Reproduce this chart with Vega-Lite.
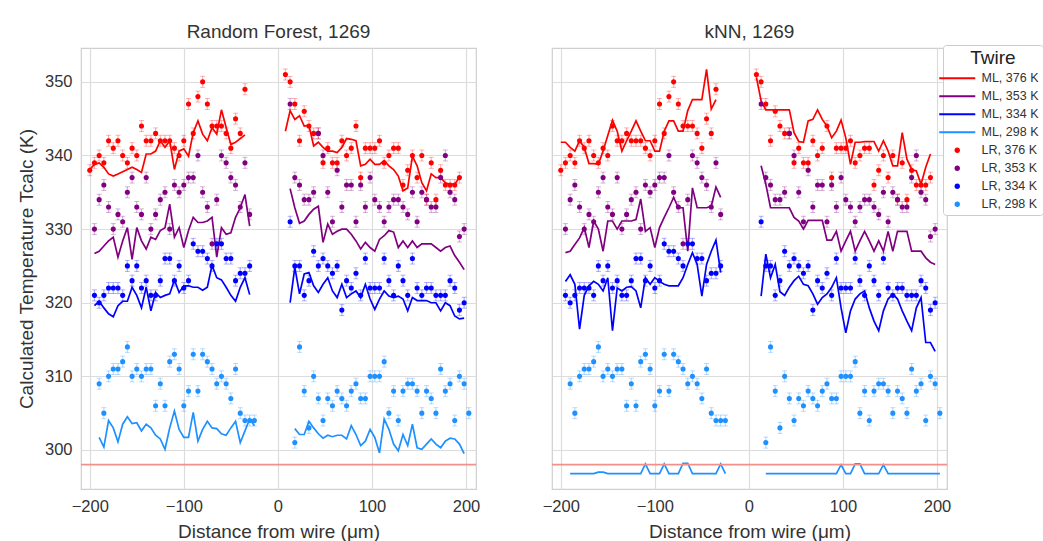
{
"$schema": "https://vega.github.io/schema/vega-lite/v6.json",
"background": "white",
"padding": {"left": 16, "top": 22, "right": 0, "bottom": 0},
"spacing": 60,
"config": {
  "font": "Liberation Sans",
  "view": {"stroke": "#cfcfcf", "strokeWidth": 1.2},
  "axis": {"grid": true, "gridColor": "#dcdcdc", "gridWidth": 1.2, "domain": false, "ticks": false, "labelFontSize": 16.5, "labelColor": "#333333", "titleFontSize": 19, "titleFontWeight": "normal", "titleColor": "#333333", "labelPadding": 9, "titlePadding": 8},
  "title": {"fontSize": 19, "fontWeight": "normal", "color": "#333333", "offset": 6}
},
"datasets": {
"lr": [
{"x":-200,"L376":338,"L353":null,"L334":null,"L298":null},
{"x":-195,"L376":339,"L353":330,"L334":321,"L298":null},
{"x":-190,"L376":340,"L353":334,"L334":320,"L298":309},
{"x":-185,"L376":339,"L353":336,"L334":321,"L298":305},
{"x":-180,"L376":342,"L353":333,"L334":322,"L298":310},
{"x":-175,"L376":341,"L353":330,"L334":322,"L298":311},
{"x":-170,"L376":342,"L353":332,"L334":322,"L298":311},
{"x":-165,"L376":340,"L353":331,"L334":321,"L298":312},
{"x":-160,"L376":339,"L353":335,"L334":325,"L298":314},
{"x":-155,"L376":341,"L353":337,"L334":323,"L298":310},
{"x":-150,"L376":340,"L353":333,"L334":325,"L298":311},
{"x":-145,"L376":344,"L353":332,"L334":322,"L298":310},
{"x":-140,"L376":342,"L353":337,"L334":323,"L298":311},
{"x":-135,"L376":342,"L353":330,"L334":321,"L298":311},
{"x":-130,"L376":343,"L353":332,"L334":321,"L298":306},
{"x":-125,"L376":342,"L353":334,"L334":323,"L298":309},
{"x":-120,"L376":342,"L353":335,"L334":326,"L298":306},
{"x":-115,"L376":342,"L353":330,"L334":326,"L298":312},
{"x":-110,"L376":341,"L353":336,"L334":323,"L298":313},
{"x":-105,"L376":340,"L353":335,"L334":325,"L298":311},
{"x":-100,"L376":342,"L353":336,"L334":322,"L298":306},
{"x":-95,"L376":347,"L353":337,"L334":323,"L298":308},
{"x":-90,"L376":343,"L353":337,"L334":328,"L298":313},
{"x":-85,"L376":348,"L353":340,"L334":327,"L298":308},
{"x":-80,"L376":350,"L353":335,"L334":327,"L298":313},
{"x":-75,"L376":347,"L353":333,"L334":326,"L298":312},
{"x":-70,"L376":344,"L353":328,"L334":325,"L298":311},
{"x":-65,"L376":344,"L353":334,"L334":328,"L298":309},
{"x":-60,"L376":344,"L353":340,"L334":328,"L298":310},
{"x":-55,"L376":343,"L353":339,"L334":326,"L298":309},
{"x":-50,"L376":341,"L353":337,"L334":326,"L298":307},
{"x":-45,"L376":345,"L353":336,"L334":323,"L298":311},
{"x":-40,"L376":343,"L353":333,"L334":324,"L298":305},
{"x":-35,"L376":349,"L353":339,"L334":324,"L298":304},
{"x":-30,"L376":null,"L353":332,"L334":325,"L298":304},
{"x":-25,"L376":null,"L353":null,"L334":null,"L298":304},
{"x":8,"L376":351,"L353":null,"L334":null,"L298":null},
{"x":13,"L376":350,"L353":347,"L334":331,"L298":null},
{"x":18,"L376":347,"L353":337,"L334":325,"L298":301},
{"x":23,"L376":342,"L353":336,"L334":325,"L298":314},
{"x":28,"L376":346,"L353":334,"L334":321,"L298":308},
{"x":33,"L376":344,"L353":334,"L334":323,"L298":303},
{"x":38,"L376":343,"L353":335,"L334":327,"L298":310},
{"x":43,"L376":343,"L353":343,"L334":325,"L298":307},
{"x":48,"L376":339,"L353":340,"L334":326,"L298":304},
{"x":53,"L376":341,"L353":335,"L334":325,"L298":307},
{"x":58,"L376":339,"L353":331,"L334":324,"L298":306},
{"x":63,"L376":339,"L353":338,"L334":325,"L298":308},
{"x":68,"L376":342,"L353":333,"L334":319,"L298":307},
{"x":73,"L376":340,"L353":336,"L334":323,"L298":306},
{"x":78,"L376":341,"L353":336,"L334":322,"L298":308},
{"x":83,"L376":344,"L353":331,"L334":324,"L298":309},
{"x":88,"L376":337,"L353":336,"L334":321,"L298":307},
{"x":93,"L376":341,"L353":333,"L334":326,"L298":307},
{"x":98,"L376":341,"L353":337,"L334":322,"L298":310},
{"x":103,"L376":341,"L353":334,"L334":322,"L298":310},
{"x":108,"L376":342,"L353":333,"L334":322,"L298":310},
{"x":113,"L376":339,"L353":331,"L334":326,"L298":312},
{"x":118,"L376":340,"L353":333,"L334":323,"L298":305},
{"x":123,"L376":341,"L353":334,"L334":321,"L298":308},
{"x":128,"L376":341,"L353":334,"L334":325,"L298":304},
{"x":133,"L376":336,"L353":333,"L334":323,"L298":308},
{"x":138,"L376":338,"L353":332,"L334":321,"L298":309},
{"x":143,"L376":340,"L353":335,"L334":326,"L298":309},
{"x":148,"L376":337,"L353":331,"L334":322,"L298":308},
{"x":153,"L376":340,"L353":335,"L334":321,"L298":305},
{"x":158,"L376":334,"L353":334,"L334":322,"L298":308},
{"x":163,"L376":339,"L353":333,"L334":322,"L298":307},
{"x":168,"L376":334,"L353":333,"L334":321,"L298":305},
{"x":173,"L376":338,"L353":337,"L334":321,"L298":311},
{"x":178,"L376":336,"L353":340,"L334":321,"L298":308},
{"x":183,"L376":336,"L353":335,"L334":323,"L298":309},
{"x":188,"L376":336,"L353":334,"L334":322,"L298":304},
{"x":193,"L376":337,"L353":329,"L334":319,"L298":310},
{"x":198,"L376":null,"L353":330,"L334":320,"L298":309},
{"x":203,"L376":null,"L353":null,"L334":null,"L298":305}
],
"rf": [
{"x":-200,"g":"L","M376":338.1,"M353":null,"M334":null,"M298":null},
{"x":-195,"g":"L","M376":338.8,"M353":326.7,"M334":319.6,"M298":null},
{"x":-190,"g":"L","M376":339.0,"M353":327.0,"M334":320.2,"M298":301.7},
{"x":-185,"g":"L","M376":338.4,"M353":327.7,"M334":319.3,"M298":300.4},
{"x":-180,"g":"L","M376":337.5,"M353":328.4,"M334":318.5,"M298":304.0},
{"x":-175,"g":"L","M376":337.2,"M353":328.9,"M334":318.1,"M298":303.0},
{"x":-170,"g":"L","M376":337.5,"M353":326.2,"M334":319.6,"M298":301.1},
{"x":-165,"g":"L","M376":337.8,"M353":328.4,"M334":320.2,"M298":303.5},
{"x":-160,"g":"L","M376":338.1,"M353":330.2,"M334":320.2,"M298":304.5},
{"x":-155,"g":"L","M376":338.4,"M353":325.9,"M334":322.1,"M298":303.6},
{"x":-150,"g":"L","M376":338.1,"M353":330.2,"M334":321.0,"M298":303.7},
{"x":-145,"g":"L","M376":337.7,"M353":328.4,"M334":319.3,"M298":302.6},
{"x":-140,"g":"L","M376":340.2,"M353":327.3,"M334":322.1,"M298":303.5},
{"x":-135,"g":"L","M376":340.2,"M353":328.9,"M334":318.9,"M298":303.0},
{"x":-130,"g":"L","M376":340.6,"M353":328.6,"M334":321.4,"M298":302.0},
{"x":-125,"g":"L","M376":342.0,"M353":329.8,"M334":320.7,"M298":301.5},
{"x":-120,"g":"L","M376":341.1,"M353":330.2,"M334":321.0,"M298":300.1},
{"x":-115,"g":"L","M376":342.0,"M353":333.4,"M334":321.2,"M298":303.0},
{"x":-110,"g":"L","M376":338.1,"M353":328.9,"M334":323.1,"M298":305.3},
{"x":-105,"g":"L","M376":340.6,"M353":330.2,"M334":321.4,"M298":302.8},
{"x":-100,"g":"L","M376":340.9,"M353":327.5,"M334":322.3,"M298":301.7},
{"x":-95,"g":"L","M376":339.9,"M353":329.8,"M334":322.3,"M298":301.7},
{"x":-90,"g":"L","M376":343.1,"M353":331.6,"M334":322.1,"M298":305.1},
{"x":-85,"g":"L","M376":344.7,"M353":330.9,"M334":322.1,"M298":301.2},
{"x":-80,"g":"L","M376":342.9,"M353":330.9,"M334":321.7,"M298":302.8},
{"x":-75,"g":"L","M376":342.0,"M353":331.1,"M334":322.1,"M298":303.9},
{"x":-70,"g":"L","M376":343.8,"M353":331.6,"M334":325.1,"M298":303.0},
{"x":-65,"g":"L","M376":342.9,"M353":326.2,"M334":323.4,"M298":302.9},
{"x":-60,"g":"L","M376":346.2,"M353":330.2,"M334":323.1,"M298":302.2},
{"x":-55,"g":"L","M376":343.8,"M353":329.3,"M334":322.1,"M298":302.0},
{"x":-50,"g":"L","M376":341.5,"M353":329.5,"M334":321.0,"M298":303.0},
{"x":-45,"g":"L","M376":341.8,"M353":331.6,"M334":320.2,"M298":303.9},
{"x":-40,"g":"L","M376":342.3,"M353":332.9,"M334":322.1,"M298":301.0},
{"x":-35,"g":"L","M376":342.8,"M353":334.7,"M334":323.4,"M298":302.6},
{"x":-30,"g":"L","M376":null,"M353":330.4,"M334":321.1,"M298":304.2},
{"x":-25,"g":"L","M376":null,"M353":null,"M334":null,"M298":303.3},
{"x":8,"g":"R","M376":343.3,"M353":null,"M334":null,"M298":null},
{"x":13,"g":"R","M376":346.1,"M353":335.5,"M334":320.0,"M298":null},
{"x":18,"g":"R","M376":344.9,"M353":332.9,"M334":324.8,"M298":302.9},
{"x":23,"g":"R","M376":345.4,"M353":330.8,"M334":321.2,"M298":302.1},
{"x":28,"g":"R","M376":344.0,"M353":331.1,"M334":323.9,"M298":302.1},
{"x":33,"g":"R","M376":344.1,"M353":332.0,"M334":324.1,"M298":303.9},
{"x":38,"g":"R","M376":341.3,"M353":332.7,"M334":322.3,"M298":303.0},
{"x":43,"g":"R","M376":341.8,"M353":333.1,"M334":321.4,"M298":302.2},
{"x":48,"g":"R","M376":341.1,"M353":328.2,"M334":322.5,"M298":301.6},
{"x":53,"g":"R","M376":340.6,"M353":330.7,"M334":323.4,"M298":302.0},
{"x":58,"g":"R","M376":340.6,"M353":329.3,"M334":321.6,"M298":301.8},
{"x":63,"g":"R","M376":340.4,"M353":329.7,"M334":320.7,"M298":302.0},
{"x":68,"g":"R","M376":341.1,"M353":330.0,"M334":322.5,"M298":302.0},
{"x":73,"g":"R","M376":342.3,"M353":330.0,"M334":320.7,"M298":301.5},
{"x":78,"g":"R","M376":342.2,"M353":329.3,"M334":321.2,"M298":303.3},
{"x":83,"g":"R","M376":342.0,"M353":328.4,"M334":321.6,"M298":302.1},
{"x":88,"g":"R","M376":338.6,"M353":327.3,"M334":320.7,"M298":300.6},
{"x":93,"g":"R","M376":338.8,"M353":328.2,"M334":322.5,"M298":301.2},
{"x":98,"g":"R","M376":339.5,"M353":327.5,"M334":320.5,"M298":302.8},
{"x":103,"g":"R","M376":338.8,"M353":327.0,"M334":319.1,"M298":301.7},
{"x":108,"g":"R","M376":338.8,"M353":328.6,"M334":320.5,"M298":299.6},
{"x":113,"g":"R","M376":339.3,"M353":329.1,"M334":321.6,"M298":304.2},
{"x":118,"g":"R","M376":338.6,"M353":329.8,"M334":320.9,"M298":302.8},
{"x":123,"g":"R","M376":338.1,"M353":329.6,"M334":320.7,"M298":300.8},
{"x":128,"g":"R","M376":337.2,"M353":327.5,"M334":320.9,"M298":299.9},
{"x":133,"g":"R","M376":335.2,"M353":328.4,"M334":320.5,"M298":302.1},
{"x":138,"g":"R","M376":335.6,"M353":327.5,"M334":318.9,"M298":300.6},
{"x":143,"g":"R","M376":339.9,"M353":328.4,"M334":320.7,"M298":303.5},
{"x":148,"g":"R","M376":338.6,"M353":327.5,"M334":320.3,"M298":300.3},
{"x":153,"g":"R","M376":336.3,"M353":328.0,"M334":320.3,"M298":300.1},
{"x":158,"g":"R","M376":335.2,"M353":328.0,"M334":320.3,"M298":300.8},
{"x":163,"g":"R","M376":337.5,"M353":328.0,"M334":320.0,"M298":301.5},
{"x":168,"g":"R","M376":337.0,"M353":327.5,"M334":320.0,"M298":300.8},
{"x":173,"g":"R","M376":337.0,"M353":327.0,"M334":318.9,"M298":300.3},
{"x":178,"g":"R","M376":336.3,"M353":327.5,"M334":320.0,"M298":301.2},
{"x":183,"g":"R","M376":336.1,"M353":327.7,"M334":319.6,"M298":301.6},
{"x":188,"g":"R","M376":336.1,"M353":326.4,"M334":318.2,"M298":301.5},
{"x":193,"g":"R","M376":337.0,"M353":325.5,"M334":317.8,"M298":300.8},
{"x":198,"g":"R","M376":null,"M353":324.5,"M334":317.9,"M298":299.5}
],
"knn": [
{"x":-200,"g":"L","M376":341.8,"M353":null,"M334":null,"M298":null},
{"x":-195,"g":"L","M376":341.8,"M353":326.8,"M334":322.9,"M298":null},
{"x":-190,"g":"L","M376":341.1,"M353":327.0,"M334":323.8,"M298":296.8},
{"x":-185,"g":"L","M376":340.6,"M353":327.9,"M334":322.5,"M298":296.8},
{"x":-180,"g":"L","M376":342.0,"M353":328.8,"M334":316.4,"M298":296.8},
{"x":-175,"g":"L","M376":341.1,"M353":330.2,"M334":321.0,"M298":296.8},
{"x":-170,"g":"L","M376":338.9,"M353":327.5,"M334":322.3,"M298":296.8},
{"x":-165,"g":"L","M376":338.9,"M353":331.1,"M334":322.9,"M298":296.8},
{"x":-160,"g":"L","M376":338.8,"M353":330.0,"M334":322.5,"M298":297.0},
{"x":-155,"g":"L","M376":340.6,"M353":327.0,"M334":321.6,"M298":297.0},
{"x":-150,"g":"L","M376":342.7,"M353":331.1,"M334":323.4,"M298":296.8},
{"x":-145,"g":"L","M376":344.8,"M353":331.1,"M334":316.2,"M298":296.8},
{"x":-140,"g":"L","M376":343.3,"M353":330.0,"M334":322.0,"M298":296.8},
{"x":-135,"g":"L","M376":340.6,"M353":331.1,"M334":321.6,"M298":296.8},
{"x":-130,"g":"L","M376":342.0,"M353":331.1,"M334":322.1,"M298":296.8},
{"x":-125,"g":"L","M376":343.3,"M353":331.1,"M334":322.2,"M298":296.8},
{"x":-120,"g":"L","M376":344.7,"M353":331.3,"M334":321.6,"M298":296.8},
{"x":-115,"g":"L","M376":343.3,"M353":334.1,"M334":319.3,"M298":296.8},
{"x":-110,"g":"L","M376":342.0,"M353":329.7,"M334":323.4,"M298":298.1},
{"x":-105,"g":"L","M376":342.0,"M353":330.2,"M334":322.5,"M298":296.8},
{"x":-100,"g":"L","M376":340.6,"M353":327.5,"M334":323.4,"M298":296.8},
{"x":-95,"g":"L","M376":340.6,"M353":330.2,"M334":322.9,"M298":296.8},
{"x":-90,"g":"L","M376":343.3,"M353":331.6,"M334":322.5,"M298":298.1},
{"x":-85,"g":"L","M376":344.7,"M353":332.9,"M334":322.3,"M298":296.8},
{"x":-80,"g":"L","M376":344.7,"M353":334.3,"M334":322.3,"M298":296.8},
{"x":-75,"g":"L","M376":343.3,"M353":332.9,"M334":322.3,"M298":296.8},
{"x":-70,"g":"L","M376":343.3,"M353":332.9,"M334":323.4,"M298":298.2},
{"x":-65,"g":"L","M376":346.1,"M353":327.0,"M334":325.2,"M298":298.2},
{"x":-60,"g":"L","M376":347.6,"M353":335.6,"M334":326.8,"M298":296.8},
{"x":-55,"g":"L","M376":347.6,"M353":332.9,"M334":325.2,"M298":296.8},
{"x":-50,"g":"L","M376":347.6,"M353":332.9,"M334":320.9,"M298":296.8},
{"x":-45,"g":"L","M376":351.7,"M353":332.9,"M334":325.2,"M298":296.8},
{"x":-40,"g":"L","M376":346.3,"M353":333.1,"M334":327.0,"M298":296.8},
{"x":-35,"g":"L","M376":347.6,"M353":335.7,"M334":328.5,"M298":296.8},
{"x":-30,"g":"L","M376":null,"M353":334.3,"M334":324.1,"M298":298.1},
{"x":-25,"g":"L","M376":null,"M353":null,"M334":null,"M298":296.8},
{"x":8,"g":"R","M376":350.6,"M353":null,"M334":null,"M298":null},
{"x":13,"g":"R","M376":347.4,"M353":338.6,"M334":320.9,"M298":null},
{"x":18,"g":"R","M376":346.2,"M353":336.1,"M334":326.6,"M298":296.8},
{"x":23,"g":"R","M376":346.2,"M353":332.9,"M334":323.4,"M298":296.8},
{"x":28,"g":"R","M376":346.2,"M353":332.9,"M334":325.2,"M298":296.8},
{"x":33,"g":"R","M376":346.2,"M353":332.9,"M334":321.5,"M298":296.8},
{"x":38,"g":"R","M376":346.2,"M353":332.9,"M334":321.0,"M298":296.8},
{"x":43,"g":"R","M376":346.2,"M353":332.9,"M334":322.1,"M298":296.8},
{"x":48,"g":"R","M376":343.1,"M353":331.6,"M334":323.0,"M298":296.8},
{"x":53,"g":"R","M376":341.9,"M353":331.1,"M334":323.6,"M298":296.8},
{"x":58,"g":"R","M376":341.8,"M353":330.0,"M334":322.5,"M298":296.8},
{"x":63,"g":"R","M376":344.7,"M353":331.2,"M334":322.3,"M298":296.8},
{"x":68,"g":"R","M376":344.9,"M353":331.2,"M334":321.2,"M298":296.8},
{"x":73,"g":"R","M376":346.2,"M353":331.2,"M334":319.8,"M298":296.8},
{"x":78,"g":"R","M376":344.9,"M353":331.2,"M334":320.7,"M298":296.8},
{"x":83,"g":"R","M376":344.0,"M353":328.5,"M334":321.2,"M298":296.8},
{"x":88,"g":"R","M376":342.4,"M353":328.5,"M334":322.1,"M298":296.8},
{"x":93,"g":"R","M376":343.3,"M353":329.7,"M334":323.4,"M298":296.8},
{"x":98,"g":"R","M376":344.8,"M353":327.0,"M334":319.3,"M298":298.0},
{"x":103,"g":"R","M376":342.4,"M353":328.4,"M334":315.9,"M298":296.8},
{"x":108,"g":"R","M376":338.8,"M353":329.7,"M334":318.9,"M298":296.8},
{"x":113,"g":"R","M376":341.8,"M353":327.0,"M334":320.5,"M298":298.1},
{"x":118,"g":"R","M376":341.8,"M353":328.4,"M334":321.2,"M298":298.1},
{"x":123,"g":"R","M376":341.9,"M353":329.7,"M334":321.6,"M298":296.8},
{"x":128,"g":"R","M376":341.9,"M353":328.4,"M334":319.3,"M298":296.8},
{"x":133,"g":"R","M376":341.9,"M353":327.0,"M334":317.5,"M298":296.8},
{"x":138,"g":"R","M376":340.6,"M353":328.4,"M334":316.2,"M298":296.8},
{"x":143,"g":"R","M376":342.0,"M353":327.0,"M334":318.9,"M298":298.0},
{"x":148,"g":"R","M376":340.6,"M353":329.7,"M334":320.5,"M298":296.8},
{"x":153,"g":"R","M376":338.6,"M353":327.0,"M334":321.2,"M298":296.8},
{"x":158,"g":"R","M376":338.6,"M353":329.7,"M334":320.5,"M298":296.8},
{"x":163,"g":"R","M376":343.1,"M353":329.7,"M334":318.9,"M298":296.8},
{"x":168,"g":"R","M376":339.5,"M353":329.7,"M334":317.5,"M298":296.8},
{"x":173,"g":"R","M376":338.1,"M353":327.0,"M334":316.2,"M298":296.8},
{"x":178,"g":"R","M376":337.9,"M353":327.0,"M334":319.3,"M298":296.8},
{"x":183,"g":"R","M376":336.1,"M353":327.0,"M334":320.7,"M298":296.8},
{"x":188,"g":"R","M376":338.4,"M353":326.1,"M334":314.6,"M298":296.8},
{"x":193,"g":"R","M376":340.2,"M353":325.5,"M334":314.6,"M298":296.8},
{"x":198,"g":"R","M376":null,"M353":325.2,"M334":313.4,"M298":296.8},
{"x":203,"g":"R","M376":null,"M353":null,"M334":null,"M298":296.8}
]
},
"hconcat": [
{
  "title": "Random Forest, 1269",
  "width": 395, "height": 441,
  "layer": [
    {"data": {"name": "rf"}, "transform": [{"fold": ["M376","M353","M334","M298"], "as": ["s","t"]}],
     "mark": {"type": "line", "strokeWidth": 1.7},
     "encoding": {
       "x": {"field":"x","type":"quantitative","scale":{"domain":[-209.3,210.6],"nice":false,"zero":false},"axis":{"values":[-200,-100,0,100,200],"title":"Distance from wire (μm)"}},
       "y": {"field":"t","type":"quantitative","scale":{"domain":[294.7,354.6],"nice":false,"zero":false},"axis":{"values":[300,310,320,330,340,350],"title":"Calculated Temperature Tcalc (K)"}},
       "color": {"field":"s","type":"nominal","scale":{"domain":["M376","M353","M334","M298","L376","L353","L334","L298"],"range":["#ff0000","#800080","#0000ff","#1e90ff","#ff0000","#800080","#0000ff","#1e90ff"]},
         "legend": {"title":"Twire","orient":"none","legendX":862,"legendY":-3,
           "labelExpr":"(substring(datum.label,0,1)==='M' ? 'ML, ' : 'LR, ') + substring(datum.label,1) + ' K'",
           "symbolSize":324,"rowPadding":5,"symbolOffset":4,"labelOffset":18,
           "padding":4,"strokeColor":"#cccccc","fillColor":"#ffffff","cornerRadius":3,
           "titleFontSize":19,"titleFontWeight":"normal","titleColor":"#222222","titlePadding":4,"titleAnchor":"middle",
           "labelFontSize":12.5,"labelColor":"#333333",
           "encoding": {"symbols": {
              "shape": {"value": {"expr": "substring(datum.value,0,1)==='M' ? 'stroke' : 'circle'"}},
              "size": {"value": {"expr": "substring(datum.value,0,1)==='M' ? 1300 : 28"}},
              "strokeWidth": {"value": {"expr": "substring(datum.value,0,1)==='M' ? 2 : 0"}},
              "stroke": {"value": {"expr": "scale('color', datum.value)"}},
              "fill": {"value": {"expr": "substring(datum.value,0,1)==='M' ? 'transparent' : scale('color', datum.value)"}},
              "opacity": {"value": 1}
           }}
         }},
       "detail": {"field":"g"}
     }},
    {"data": {"name": "lr"}, "transform": [{"fold": ["L376","L353","L334","L298"], "as": ["s","t"]}],
     "mark": {"type": "rule", "yOffset": -5.5, "y2Offset": 5.5, "opacity": 0.3, "strokeWidth": 1.2},
     "encoding": {"x": {"field":"x","type":"quantitative"}, "y": {"field":"t","type":"quantitative"}, "y2": {"field":"t"}, "color": {"field":"s","type":"nominal"}}},
    {"data": {"name": "lr"}, "transform": [{"fold": ["L376","L353","L334","L298"], "as": ["s","t"]}],
     "mark": {"type": "tick", "orient": "horizontal", "size": 5, "thickness": 1, "yOffset": -5.5, "opacity": 0.3},
     "encoding": {"x": {"field":"x","type":"quantitative"}, "y": {"field":"t","type":"quantitative"}, "color": {"field":"s","type":"nominal"}}},
    {"data": {"name": "lr"}, "transform": [{"fold": ["L376","L353","L334","L298"], "as": ["s","t"]}],
     "mark": {"type": "tick", "orient": "horizontal", "size": 5, "thickness": 1, "yOffset": 5.5, "opacity": 0.3},
     "encoding": {"x": {"field":"x","type":"quantitative"}, "y": {"field":"t","type":"quantitative"}, "color": {"field":"s","type":"nominal"}}},
    {"data": {"values": [{}]}, "mark": {"type": "rule", "color": "#f4908a", "strokeWidth": 1.8},
     "encoding": {"y": {"datum": 298, "type": "quantitative"}}},
    {"data": {"name": "lr"}, "transform": [{"fold": ["L376","L353","L334","L298"], "as": ["s","t"]}],
     "mark": {"type": "point", "filled": true, "size": 26, "opacity": 1},
     "encoding": {"x": {"field":"x","type":"quantitative"}, "y": {"field":"t","type":"quantitative"}, "color": {"field":"s","type":"nominal"}}}
  ]
},
{
  "title": "kNN, 1269",
  "width": 395, "height": 441,
  "layer": [
    {"data": {"name": "knn"}, "transform": [{"fold": ["M376","M353","M334","M298"], "as": ["s","t"]}],
     "mark": {"type": "line", "strokeWidth": 1.7},
     "encoding": {
       "x": {"field":"x","type":"quantitative","scale":{"domain":[-209.3,210.6],"nice":false,"zero":false},"axis":{"values":[-200,-100,0,100,200],"title":"Distance from wire (μm)"}},
       "y": {"field":"t","type":"quantitative","scale":{"domain":[294.7,354.6],"nice":false,"zero":false},"axis":{"values":[300,310,320,330,340,350],"labels":false,"title":null}},
       "color": {"field":"s","type":"nominal"},
       "detail": {"field":"g"}
     }},
    {"data": {"name": "lr"}, "transform": [{"fold": ["L376","L353","L334","L298"], "as": ["s","t"]}],
     "mark": {"type": "rule", "yOffset": -5.5, "y2Offset": 5.5, "opacity": 0.3, "strokeWidth": 1.2},
     "encoding": {"x": {"field":"x","type":"quantitative"}, "y": {"field":"t","type":"quantitative"}, "y2": {"field":"t"}, "color": {"field":"s","type":"nominal"}}},
    {"data": {"name": "lr"}, "transform": [{"fold": ["L376","L353","L334","L298"], "as": ["s","t"]}],
     "mark": {"type": "tick", "orient": "horizontal", "size": 5, "thickness": 1, "yOffset": -5.5, "opacity": 0.3},
     "encoding": {"x": {"field":"x","type":"quantitative"}, "y": {"field":"t","type":"quantitative"}, "color": {"field":"s","type":"nominal"}}},
    {"data": {"name": "lr"}, "transform": [{"fold": ["L376","L353","L334","L298"], "as": ["s","t"]}],
     "mark": {"type": "tick", "orient": "horizontal", "size": 5, "thickness": 1, "yOffset": 5.5, "opacity": 0.3},
     "encoding": {"x": {"field":"x","type":"quantitative"}, "y": {"field":"t","type":"quantitative"}, "color": {"field":"s","type":"nominal"}}},
    {"data": {"values": [{}]}, "mark": {"type": "rule", "color": "#f4908a", "strokeWidth": 1.8},
     "encoding": {"y": {"datum": 298, "type": "quantitative"}}},
    {"data": {"name": "lr"}, "transform": [{"fold": ["L376","L353","L334","L298"], "as": ["s","t"]}],
     "mark": {"type": "point", "filled": true, "size": 26, "opacity": 1},
     "encoding": {"x": {"field":"x","type":"quantitative"}, "y": {"field":"t","type":"quantitative"}, "color": {"field":"s","type":"nominal"}}}
  ]
}
]
}
